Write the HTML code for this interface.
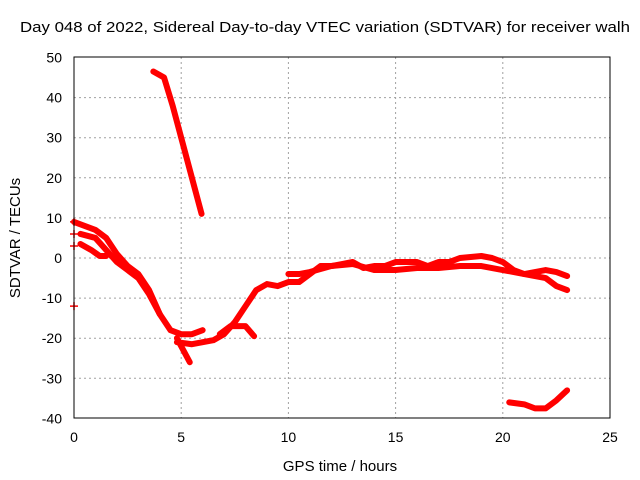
<!DOCTYPE html>
<html><head><meta charset="utf-8"><style>
body{margin:0;background:#fff}
svg{display:block;font-family:"Liberation Sans",sans-serif}
</style></head><body>
<svg id="c" width="640" height="480">
<text x="20" y="32" font-size="15" textLength="610" lengthAdjust="spacingAndGlyphs">Day 048 of 2022, Sidereal Day-to-day VTEC variation (SDTVAR) for receiver walh</text>
<text x="340" y="471" font-size="15" text-anchor="middle">GPS time / hours</text>
<text transform="translate(20,238) rotate(-90)" font-size="15" text-anchor="middle">SDTVAR / TECUs</text>
<g id="grid"></g><g id="data"></g>
<rect x="74" y="57" width="536" height="361" fill="none" stroke="#000" stroke-width="1"/>
</svg>
<script>
const xTicks=[0,5,10,15,20,25];
const yTicks=[-40,-30,-20,-10,0,10,20,30,40,50];
const trackA=[[3.7,46.5],[4.2,45],[4.6,38],[5.0,30],[5.5,20],[5.95,11]];
const trackB=[[0,9],[0.5,8],[1,7],[1.5,5],[2,1],[2.5,-2],[3,-4],[3.5,-8],[4,-14],[4.5,-18],[5,-19],[5.5,-19],[6,-18]];
const trackB2=[[4.8,-20],[5.1,-23],[5.4,-26]];
const trackC=[[0.3,6],[1,5],[1.5,2],[2,-1],[2.5,-3],[3,-5],[3.5,-9],[4,-14]];
const trackD=[[0.3,3.5],[0.8,2],[1.2,0.5],[1.5,0.5]];
const trackE=[[4.8,-21],[5.5,-21.5],[6.5,-20.5],[7,-19],[7.5,-16],[8,-12],[8.5,-8],[9,-6.5],[9.5,-7],[10,-6],[10.5,-6],[11,-4],[11.5,-2],[12,-2],[12.5,-1.5],[13,-1],[13.5,-2.5],[14,-2],[14.5,-2],[15,-1],[15.5,-1],[16,-1],[16.5,-2],[17,-1],[17.5,-1],[18,0],[19,0.5],[19.5,0],[20,-1],[20.5,-3],[21,-4],[21.5,-3.5],[22,-3],[22.5,-3.5],[23,-4.5]];
const trackE2=[[6.8,-19],[7.3,-17],[8,-17],[8.4,-19.5]];
const trackF=[[10,-4],[10.5,-4],[11,-3.5],[12,-2],[13,-1.5],[14,-3],[15,-3],[16,-2.5],[17,-2.5],[18,-2],[19,-2],[20,-3],[21,-4],[22,-5],[22.5,-7],[23,-8]];
const trackG=[[20.3,-36],[21,-36.5],[21.5,-37.5],[22,-37.5],[22.5,-35.5],[23,-33]];
const outliers=[[0,-12],[0,6],[0,9],[0,3]];
const tracks=[trackA,trackB,trackB2,trackC,trackD,trackE,trackE2,trackF,trackG];
const NS="http://www.w3.org/2000/svg";
const X=t=>74+t*(536/25), Y=v=>258-v*4.01;
const g=document.getElementById('grid'), d=document.getElementById('data');
function mk(tag,attrs,parent){const e=document.createElementNS(NS,tag);for(const k in attrs)e.setAttribute(k,attrs[k]);parent.appendChild(e);return e;}
xTicks.forEach(t=>{
 if(t>0&&t<25){const l=mk('line',{x1:X(t),x2:X(t),y1:57,y2:418,stroke:'#a0a0a0','stroke-dasharray':'2,3'},g);
 
 }
 const tx=mk('text',{x:X(t),y:442,'font-size':14,'text-anchor':'middle'},g);tx.textContent=t;
 
 
});
yTicks.forEach(v=>{
 if(v>-40&&v<50){const l=mk('line',{x1:74,x2:610,y1:Y(v),y2:Y(v),stroke:'#a0a0a0','stroke-dasharray':'2,3'},g);
 
 }
 const tx=mk('text',{x:62,y:Y(v)+5,'font-size':14,'text-anchor':'end'},g);tx.textContent=v;
 
 
});
tracks.forEach(tr=>{
 const p=mk('polyline',{points:tr.map(q=>X(q[0])+','+Y(q[1])).join(' '),fill:'none',stroke:'#ff0000','stroke-width':6,'stroke-linejoin':'round','stroke-linecap':'round'},d);
 
 
});
outliers.forEach(q=>{
 const p=mk('path',{d:`M${X(q[0])-4},${Y(q[1])}h8M${X(q[0])},${Y(q[1])-4}v8`,stroke:'#ff0000','stroke-width':1.5},d);
 
 
});
</script>
</body></html>
